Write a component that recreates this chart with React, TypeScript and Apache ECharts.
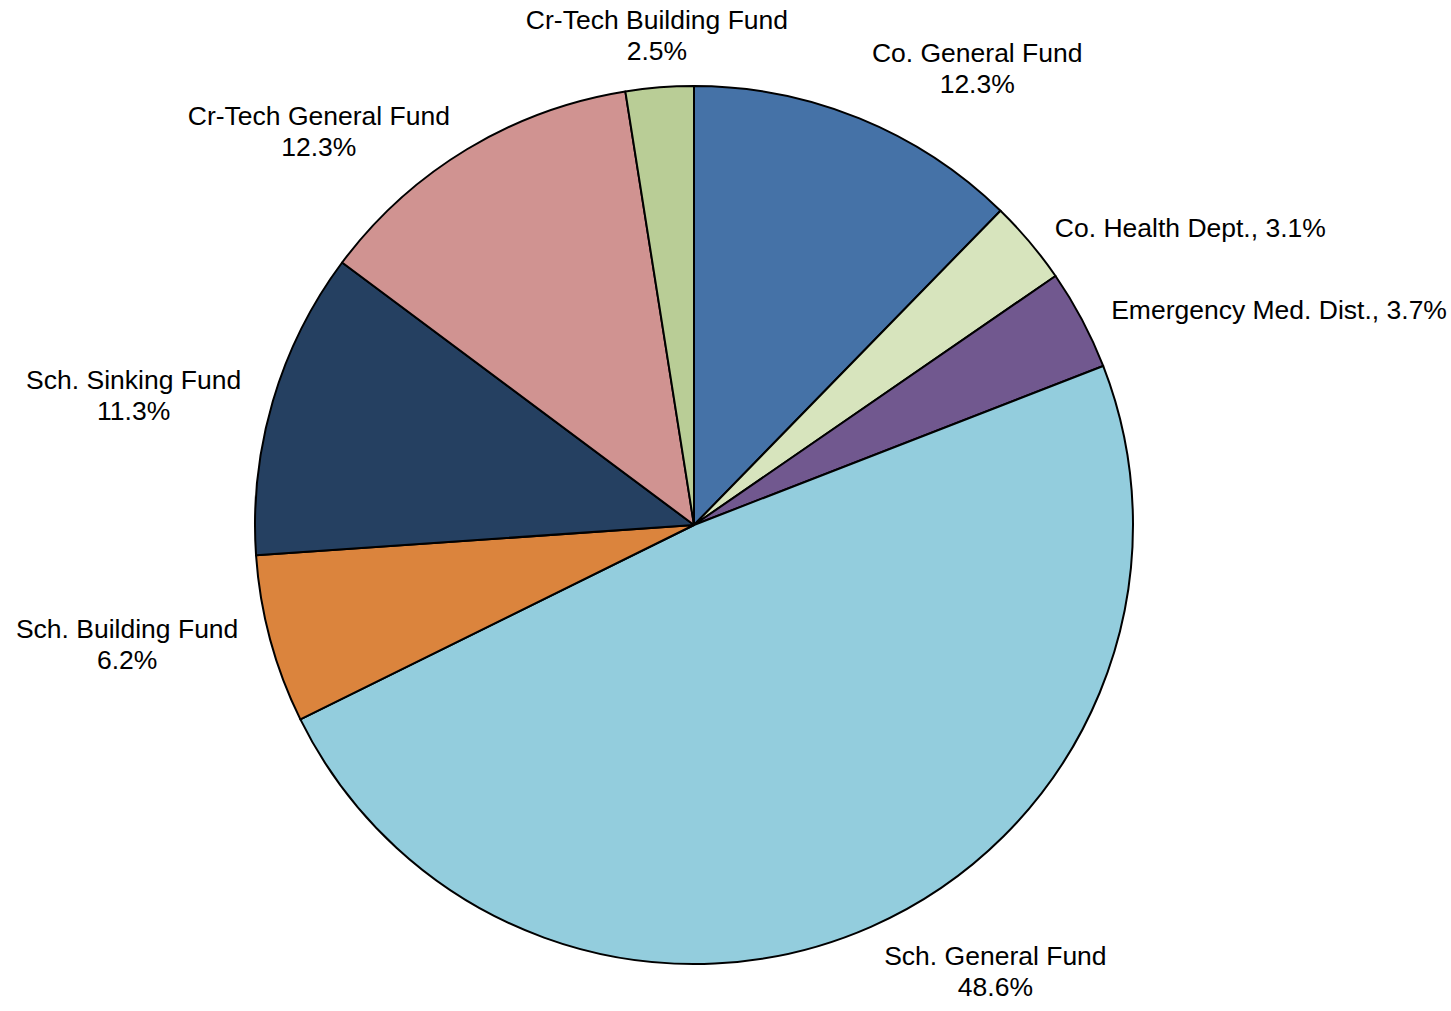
import React, { useEffect, useRef } from "react";
import * as echarts from "echarts";

const categories = [
  "Co. General Fund",
  "Co. Health Dept.",
  "Emergency Med. Dist.",
  "Sch. General Fund",
  "Sch. Building Fund",
  "Sch. Sinking Fund",
  "Cr-Tech General Fund",
  "Cr-Tech Building Fund",
];
const values = [12.3, 3.1, 3.7, 48.6, 6.2, 11.3, 12.3, 2.5];
const colors = ["#4572A7", "#D7E4BD", "#71588F", "#93CDDD", "#DB843D", "#254061", "#D09391", "#B9CD96"];
const singleLineLabels = ["Co. Health Dept.", "Emergency Med. Dist."];

const CX = 694;
const CY = 525;
const R = 439;
const LABEL_RX = 472;
const LABEL_RY = 460;

export default function App() {
  const ref = useRef<HTMLDivElement>(null);
  useEffect(() => {
    if (!ref.current) return;
    const chart = echarts.init(ref.current, null, { renderer: "svg" });
    const total = values.reduce((a, b) => a + b, 0);
    const mids: number[] = [];
    let acc = 0;
    values.forEach((v) => {
      mids.push(((acc + v / 2) / total) * Math.PI * 2);
      acc += v;
    });
    const clamp = (t: number, th: number, k: number) =>
      Math.sign(t) * Math.min(1, Math.max(0, (Math.abs(t) - th) * k));

    chart.setOption({
      animation: false,
      backgroundColor: "#ffffff",
      series: [
        {
          type: "pie",
          center: [CX, CY],
          radius: R,
          startAngle: 90,
          clockwise: true,
          avoidLabelOverlap: false,
          data: categories.map((name, i) => ({
            name,
            value: values[i],
            itemStyle: { color: colors[i] },
          })),
          itemStyle: { borderColor: "#000000", borderWidth: 2 },
          emphasis: { disabled: true },
          label: {
            show: true,
            position: "outside",
            color: "#000000",
            fontFamily: "'Liberation Sans', Arial, sans-serif",
            fontSize: 26.5,
            lineHeight: 31,
            formatter: (p: any) =>
              singleLineLabels.includes(p.name)
                ? `${p.name}, ${p.value.toFixed(1)}%`
                : `${p.name}\n${p.value.toFixed(1)}%`,
          },
          labelLine: { show: false },
          labelLayout: (params: any) => {
            const i = params.dataIndex;
            const th = mids[i];
            const s = Math.sin(th);
            const c = Math.cos(th);
            const w = params.labelRect.width;
            const h = params.labelRect.height;
            const px = CX + LABEL_RX * s;
            const py = CY - LABEL_RY * c;
            const ax = (-w / 2) * clamp(s, 0.1, 4);
            const ay = (h / 2) * clamp(c, 0.86, 15);
            return { x: px - ax, y: py - ay, align: "center", verticalAlign: "middle" };
          },
        },
      ],
    });
    return () => chart.dispose();
  }, []);
  return (
    <div
      ref={ref}
      style={{ position: "fixed", left: 0, top: 0, width: 1451, height: 1011 }}
    />
  );
}
